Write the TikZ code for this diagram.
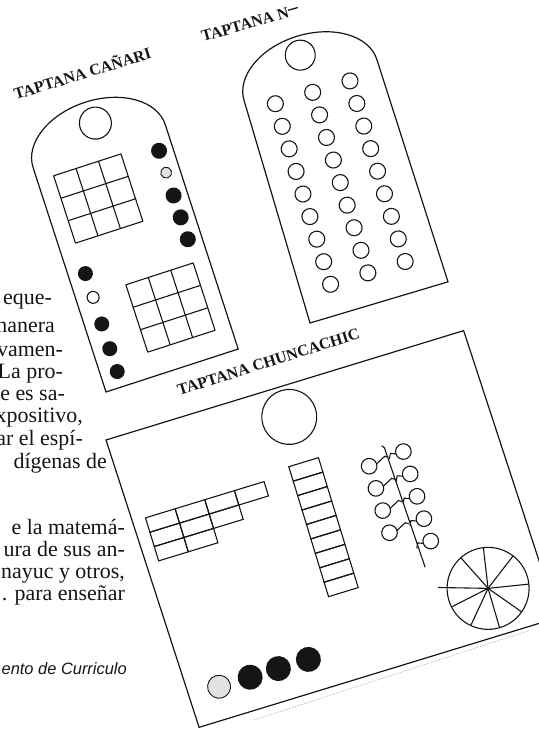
\documentclass[tikz,border=0pt]{standalone}
\usepackage{fontspec}
\setmainfont{Liberation Serif}
\setsansfont{Liberation Sans}
\usepackage{tikz}
\usetikzlibrary{positioning}
\definecolor{scan-ink}{HTML}{151515}
\definecolor{scan-gray}{HTML}{E2E2E2}
\definecolor{scan-faint}{HTML}{9A9A9A}

\begin{document}
\begin{tikzpicture}[x=1bp, y=1bp,
    board/.style={draw=scan-ink, line width=1.2pt, fill=white},
    gridln/.style={draw=scan-ink, line width=1.1pt},
    hollow/.style={draw=scan-ink, line width=1.1pt, fill=white},
    bead/.style={fill=scan-ink},
    dusty/.style={draw=scan-ink, line width=0.9pt, fill=scan-gray},
    boardtitle/.style={font=\fontsize{16}{18}\selectfont\bfseries, text=scan-ink, inner sep=0pt},
    prose/.style={font=\fontsize{22}{22}\selectfont, text=scan-ink, inner sep=0pt,
        text height=12bp, text depth=2bp, anchor=base east},
]
    \useasboundingbox (0,0) rectangle (539,731);
    \clip (0,0) rectangle (539,731);

    % Running text, partly hidden by the boards
    \node[prose] (l1) at (52,426) {eque-};
    \node[prose] (l2) at (55,398) {nanera};
    \node[prose] (l3) at (63,374) {vamen-};
    \node[prose] (l4) at (63,352) {La pro-};
    \node[prose] (l5) at (65,330) {üe es sa-};
    \node[prose] (l6) at (83,308) {xpositivo,};
    \node[prose] (l7) at (83,285) {tar el espí-};
    \node[prose] (l8) at (107,262) {dígenas de};
    \node[prose] (l9) at (125,196) {e la matemá-};
    \node[prose] (l10) at (125,174) {ura de sus an-};
    \node[prose] (l11) at (125,152) {nayuc y otros,};
    \node[prose] (l12) at (125,130) {. para enseñar};
    \node[prose, font=\fontsize{16.5}{16.5}\selectfont\sffamily\itshape] (src) at (127,56)
        {ento de Curriculo};

    % Taptana Canari
    \begin{scope}[shift={(106,339)}, rotate=18]
        \draw[board] (0,0) -- (139,0) -- (139,236)
            arc[start angle=0, end angle=180, x radius=69.5, y radius=46] -- cycle;
        \draw[hollow] (73,259) circle (16);
        \draw[gridln, shift={(17,151)}] (0,0) grid[step=23.6] (70.9,70.9);
        \draw[gridln, shift={(52,25)}] (0,0) grid[step=23.6] (70.9,70.9);
        % beads, top to bottom
        \foreach \y/\s/\r in {213/bead/8, 190/dusty/5.5, 166/bead/8, 143/bead/8, 120/bead/8}
            \path[\s] (125,\y) circle (\r);
        \foreach \y/\s/\r in {119/bead/7.5, 94/hollow/6, 66/bead/7.5, 40/bead/7.5, 16/bead/7.5}
            \path[\s] (17,\y) circle (\r);
    \end{scope}
    \node[boardtitle, rotate=17, anchor=base] (canari) at (84,652) {TAPTANA CAÑARI};

    % Taptana N
    \begin{scope}[shift={(310,408)}, rotate=17]
        \draw[board] (0,0) -- (144,-1) -- (141,232)
            arc[start angle=0, end angle=180, x radius=69.5, y radius=46] -- cycle;
        \draw[hollow] (69,259) circle (15);
        \foreach \x in {31,70,109}
            \foreach \i in {0,...,8}
                \draw[hollow] (\x,{31+23.6*\i}) circle (8);
    \end{scope}
    \node[boardtitle, rotate=16, anchor=base west] (nboard) at (203,689) {TAPTANA N};
    \draw[scan-ink, line width=1.3pt] (nboard.base east) ++(106:7) -- ++(16:10);

    % Taptana Chuncachic
    \begin{scope}[shift={(106,291)}, rotate=17]
        \draw[board] (0,0) -- (374,0) -- (380,-302) -- (5,-302) -- cycle;
        \draw[scan-faint, densely dotted, line width=0.6pt] (60,-311) -- (350,-306);
        \draw[hollow] (182,-31.5) circle (27.5);
        % stepped block
        \foreach \n [count=\r from 0] in {4,3,2}
            \foreach \c in {1,...,\n}
                \draw[gridln] ({15+31*(\c-1)},{-86-15*\r}) rectangle +(31,-15);
        % column
        \foreach \i in {0,...,8}
            \draw[gridln] (167,{-79-15.1*\i}) rectangle +(31,-15.1);
        % branch with rings
        \draw[gridln] (262,-86) -- (264,-89) -- (268,-215);
        \foreach \i in {0,...,3} {
            \draw[hollow] (244,{-102-23.2*\i}) circle (7.8);
            \draw[gridln] (251.8,{-102-23.2*\i}) -- (262,{-97-23.2*\i}) -- (265,{-99-23.2*\i});
        }
        \foreach \i in {0,...,4} {
            \draw[hollow] (281,{-98-23.4*\i}) circle (7.8);
            \draw[gridln] (265.5,{-101-23.4*\i}) -- (268,{-96-23.4*\i}) -- (273.2,{-98-23.4*\i});
        }
        % wheel
        \draw[hollow] (322,-253.6) circle (41);
        \foreach \a in {79.6,35.4,-11,-52,-90.7,-132,-170,114.6}
            \draw[gridln] (322,-253.6) -- ++(\a:41);
        \draw[gridln] (322,-253.6) -- ++(162:50);
        % counters
        \draw[dusty] (36,-269) circle (11.5);
        \foreach \x in {68.5,98,129.4}
            \fill[scan-ink] (\x,-269) circle (12.5);
    \end{scope}
    \node[boardtitle, rotate=17.5, anchor=base] (chuncachic) at (270,364) {TAPTANA CHUNCACHIC};
\end{tikzpicture}
\end{document}
